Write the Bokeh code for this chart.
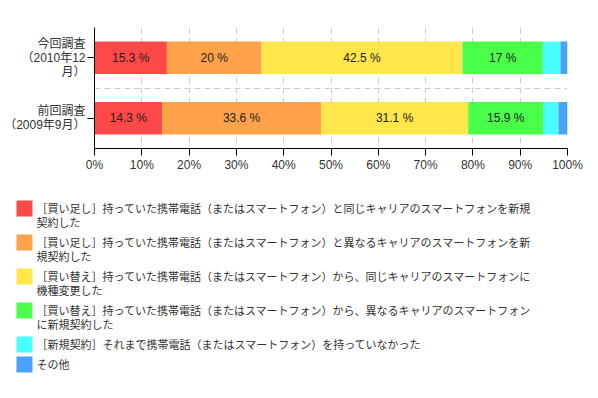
from bokeh.plotting import figure
from bokeh.models import Range1d, FixedTicker, PrintfTickFormatter, ColumnDataSource
from bokeh.core.properties import value
from bokeh.embed import file_html
from bokeh.resources import INLINE

# ---------------- data ----------------
row_labels = ["今回調査\n（2010年12\n月）", "前回調査\n（2009年9月）"]
series_names = [
    "［買い足し］持っていた携帯電話（またはスマートフォン）と同じキャリアのスマートフォンを新規契約した",
    "［買い足し］持っていた携帯電話（またはスマートフォン）と異なるキャリアのスマートフォンを新規契約した",
    "［買い替え］持っていた携帯電話（またはスマートフォン）から、同じキャリアのスマートフォンに機種変更した",
    "［買い替え］持っていた携帯電話（またはスマートフォン）から、異なるキャリアのスマートフォンに新規契約した",
    "［新規契約］それまで携帯電話（またはスマートフォン）を持っていなかった",
    "その他",
]
legend_lines = [
    ["［買い足し］持っていた携帯電話（またはスマートフォン）と同じキャリアのスマートフォンを新規", "契約した"],
    ["［買い足し］持っていた携帯電話（またはスマートフォン）と異なるキャリアのスマートフォンを新", "規契約した"],
    ["［買い替え］持っていた携帯電話（またはスマートフォン）から、同じキャリアのスマートフォンに", "機種変更した"],
    ["［買い替え］持っていた携帯電話（またはスマートフォン）から、異なるキャリアのスマートフォン", "に新規契約した"],
    ["［新規契約］それまで携帯電話（またはスマートフォン）を持っていなかった"],
    ["その他"],
]
colors = ["#ff4848", "#ffa24a", "#ffe64a", "#4aff4a", "#4affff", "#4aa2ff"]
values_2010 = [15.3, 20, 42.5, 17, 3.7, 1.5]
values_2009 = [14.3, 33.6, 31.1, 15.9, 3.2, 1.9]
x_ticks = [0, 10, 20, 30, 40, 50, 60, 70, 80, 90, 100]

FONT = "Liberation Sans, Noto Sans CJK JP"
TXT = "#333333"

# ---------------- bars ----------------
rows = [values_2010, values_2009]
ys = [0.5, 1.5]
bar = dict(y=[], left=[], right=[], color=[])
lab = dict(x=[], y=[], text=[])
for yv, vals in zip(ys, rows):
    acc = 0.0
    for v, c in zip(vals, colors):
        bar["y"].append(yv)
        bar["left"].append(acc)
        bar["right"].append(acc + v)
        bar["color"].append(c)
        if v >= 5:
            lab["x"].append(acc + v / 2)
            lab["y"].append(yv)
            lab["text"].append(f"{v:g} %")
        acc += v

p = figure(width=590, height=188, x_range=Range1d(0, 100), y_range=Range1d(2, 0),
           output_backend="svg", toolbar_location=None,
           min_border_left=94, min_border_right=23, min_border_top=27, min_border_bottom=40)
p.outline_line_color = None
p.background_fill_color = "white"

p.hbar(y="y", left="left", right="right", height=0.54, color="color",
       line_color=None, source=ColumnDataSource(bar))
p.text(x="x", y="y", text="text", source=ColumnDataSource(lab),
       text_align="center", text_baseline="middle", text_font=value(FONT),
       text_font_size="12px", text_color="#222222")

p.xaxis.ticker = FixedTicker(ticks=x_ticks)
p.xaxis.formatter = PrintfTickFormatter(format="%d%%")
p.yaxis.ticker = FixedTicker(ticks=ys)
p.yaxis.major_label_overrides = {ys[0]: row_labels[0], ys[1]: row_labels[1]}
for ax in (p.xaxis[0], p.yaxis[0]):
    ax.axis_line_color = "black"
    ax.major_tick_line_color = "black"
    ax.minor_tick_line_color = None
    ax.major_tick_in = 0
    ax.major_label_text_font = FONT
    ax.major_label_text_font_size = "12px"
    ax.major_label_text_color = TXT
p.yaxis.major_label_text_line_height = 1.0
p.xaxis.major_tick_out = 7
p.xaxis.major_label_standoff = 2
p.yaxis.major_tick_out = 7
p.yaxis.major_label_standoff = 2

p.xgrid.grid_line_color = "#cccccc"
p.xgrid.grid_line_dash = "6 4"
p.ygrid.ticker = FixedTicker(ticks=[0, 1, 2])
p.ygrid.grid_line_color = "#cccccc"
p.ygrid.grid_line_dash = "6 4"

# ---------------- legend ----------------
LH = 205
lf = figure(width=590, height=LH, x_range=Range1d(0, 590), y_range=Range1d(LH, 0),
            output_backend="svg", toolbar_location=None, min_border=0,
            x_axis_type=None, y_axis_type=None)
lf.outline_line_color = None
lf.xgrid.visible = False
lf.ygrid.visible = False

sq = dict(x=[], y=[], color=[])
lt = dict(x=[], y=[], text=[])
top = 12
for lines, c in zip(legend_lines, colors):
    sq["x"].append(24)
    sq["y"].append(top + 8)
    sq["color"].append(c)
    for i, t in enumerate(lines):
        lt["x"].append(36)
        lt["y"].append(top + 8.5 + 13.5 * i)
        lt["text"].append(t)
    top += 20 + 14 * (len(lines) - 1)

lf.rect(x="x", y="y", width=16, height=16, color="color", line_color=None,
        source=ColumnDataSource(sq))
lf.text(x="x", y="y", text="text", source=ColumnDataSource(lt),
        text_align="left", text_baseline="middle", text_font=value(FONT),
        text_font_size="11px", text_color=TXT)

open("out.html", "w").write(file_html([p, lf], INLINE))
